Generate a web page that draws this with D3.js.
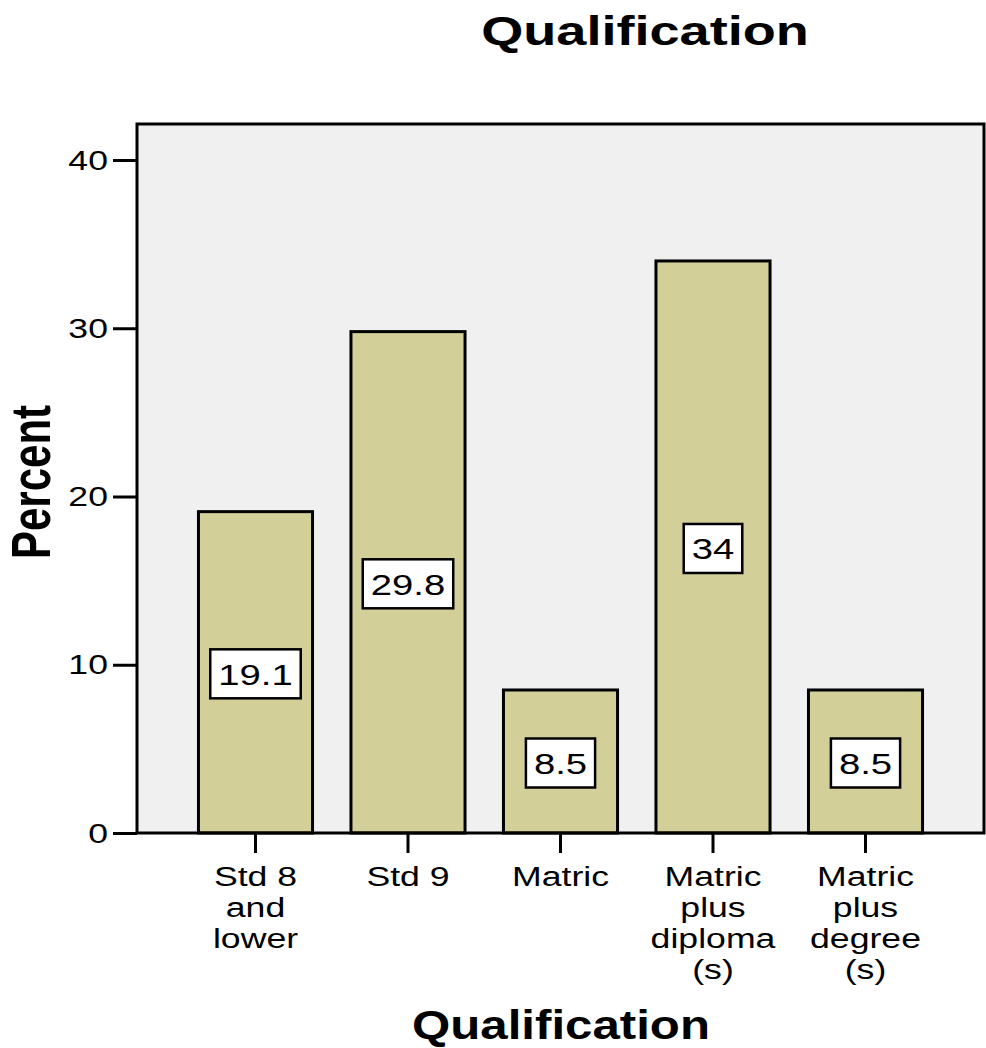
<!DOCTYPE html>
<html lang="en">
<head>
  <meta charset="UTF-8">
  <title>Qualification</title>
  <style>
    body { margin: 0; background: #fff; }
    svg text { font-family: "Liberation Sans", Arial, sans-serif; fill: #000; }
  </style>
  <script src="https://d3js.org/d3.v7.min.js"></script>
</head>
<body>
<svg id="chart"></svg>
<script>
  // Data
  const categories = [
    ["Std 8", "and", "lower"],
    ["Std 9"],
    ["Matric"],
    ["Matric", "plus", "diploma", "(s)"],
    ["Matric", "plus", "degree", "(s)"]
  ];
  const percents = [19.1, 29.8, 8.5, 34, 8.5];
  const yTicks = [0, 10, 20, 30, 40];

  const W = 986, H = 1048;
  const plot = {left: 137, top: 124, right: 984, bottom: 833};
  const SX = 1.32; // text in the original is stretched horizontally

  const svg = d3.select("#chart").attr("width", W).attr("height", H);

  // text at (px,py), stretched in x
  function label(parent, px, py, size, anchor, bold, sx) {
    return parent.append("g")
      .attr("transform", `translate(${px},${py}) scale(${sx || SX},1)`)
      .append("text")
      .attr("text-anchor", anchor)
      .style("font-size", size + "px")
      .style("font-weight", bold ? "bold" : "normal");
  }

  const keys = categories.map((c, i) => i);
  const x = d3.scaleBand()
    .domain(keys)
    .range([plot.left, plot.right])
    .paddingInner(0.252)
    .paddingOuter(0.403);

  const y = d3.scaleLinear()
    .domain([0, 40])
    .range([plot.bottom, 160]);

  // Plot background
  svg.append("rect")
    .attr("x", plot.left).attr("y", plot.top)
    .attr("width", plot.right - plot.left)
    .attr("height", plot.bottom - plot.top)
    .attr("fill", "#f0f0f0");

  // Bars
  svg.append("g").selectAll("rect")
    .data(percents)
    .join("rect")
    .attr("x", (d, i) => x(i))
    .attr("y", d => y(d))
    .attr("width", x.bandwidth())
    .attr("height", d => y(0) - y(d))
    .attr("fill", "#d3cf98")
    .attr("stroke", "#000")
    .attr("stroke-width", 3);

  // Frame
  svg.append("rect")
    .attr("x", plot.left).attr("y", plot.top)
    .attr("width", plot.right - plot.left)
    .attr("height", plot.bottom - plot.top)
    .attr("fill", "none")
    .attr("stroke", "#000")
    .attr("stroke-width", 3);

  // Y axis
  const yAxis = svg.append("g")
    .attr("transform", `translate(${plot.left},0)`)
    .call(d3.axisLeft(y).tickValues(yTicks).tickSize(24).tickFormat(""));
  yAxis.select(".domain").remove();
  yAxis.selectAll(".tick line").attr("stroke", "#000").attr("stroke-width", 3);
  yTicks.forEach(t => {
    label(svg, plot.left - 29, y(t), 27, "end").attr("dy", "0.36em").text(t);
  });

  // X axis
  const xAxis = svg.append("g")
    .attr("transform", `translate(0,${plot.bottom})`)
    .call(d3.axisBottom(x).tickSize(20).tickFormat(""));
  xAxis.select(".domain").remove();
  xAxis.selectAll(".tick line").attr("stroke", "#000").attr("stroke-width", 3);

  categories.forEach((lines, i) => {
    const t = label(svg, x(i) + x.bandwidth() / 2, 886, 27, "middle");
    t.selectAll("tspan")
      .data(lines)
      .join("tspan")
      .attr("x", 0)
      .attr("y", (l, j) => j * 31)
      .text(l => l);
  });

  // Value labels
  percents.forEach((d, i) => {
    const cx = x(i) + x.bandwidth() / 2, cy = y(d / 2);
    const box = svg.append("rect");
    const t = label(svg, cx, cy + 2, 29, "middle").attr("dy", "0.36em").text(d);
    const w = t.node().getBBox().width * SX + 16;
    box.attr("x", cx - w / 2)
      .attr("y", cy - 23)
      .attr("width", w)
      .attr("height", 49)
      .attr("fill", "#fff")
      .attr("stroke", "#000")
      .attr("stroke-width", 2.5);
  });

  // Titles
  label(svg, 645, 45, 41, "middle", true).text("Qualification");
  label(svg, 561, 1039, 40, "middle", true, 1.23).text("Qualification");

  svg.append("g")
    .attr("transform", `translate(50,482) scale(${SX},1) rotate(-90)`)
    .append("text")
    .attr("text-anchor", "middle")
    .style("font-size", "42px").style("font-weight", "bold")
    .text("Percent");
</script>
</body>
</html>
